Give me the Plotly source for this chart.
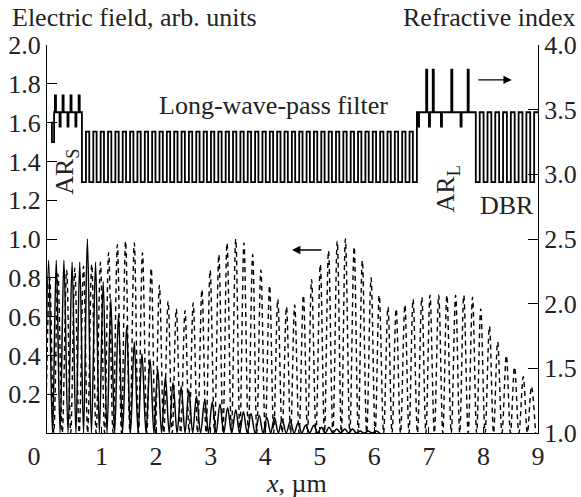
import plotly.graph_objects as go

# ---------------- data ----------------
# Electric field, dashed curve (long-wave component): peak positions (um) and heights
dashed_peak_x = [0.05, 0.20, 0.36, 0.51, 0.67, 0.82, 0.98, 1.13, 1.29, 1.44, 1.60, 1.75,
                 1.91, 2.06, 2.22, 2.37, 2.53, 2.68, 2.84, 2.99, 3.15, 3.30, 3.46, 3.61,
                 3.77, 3.92, 4.08, 4.23, 4.39, 4.54, 4.70, 4.85, 5.01, 5.16, 5.32, 5.47,
                 5.63, 5.78, 5.94, 6.09, 6.25, 6.40, 6.56, 6.71, 6.87, 7.02, 7.18, 7.33,
                 7.49, 7.64, 7.80, 7.95, 8.11, 8.26, 8.42, 8.57, 8.73, 8.88]
dashed_peak_y = [0.80, 0.82, 0.84, 0.85, 0.86, 0.87, 0.88, 0.93, 0.97, 0.99, 0.98, 0.93,
                 0.85, 0.76, 0.68, 0.64, 0.63, 0.67, 0.74, 0.84, 0.92, 0.98, 1.00, 0.98,
                 0.92, 0.84, 0.76, 0.69, 0.65, 0.66, 0.71, 0.79, 0.87, 0.94, 0.99, 1.00,
                 0.96, 0.89, 0.80, 0.71, 0.65, 0.64, 0.66, 0.69, 0.70, 0.71, 0.71, 0.71,
                 0.71, 0.71, 0.70, 0.64, 0.55, 0.47, 0.40, 0.34, 0.29, 0.24]

# Electric field, solid curve (short-wave component)
solid_peak_x = [0.03, 0.17, 0.31, 0.46, 0.60, 0.74, 0.89, 1.03, 1.17, 1.31, 1.46, 1.60,
                1.74, 1.89, 2.03, 2.17, 2.31, 2.46, 2.60, 2.74, 2.89, 3.03, 3.17, 3.31,
                3.46, 3.60, 3.74, 3.89, 4.03, 4.17, 4.31, 4.46, 4.60, 4.74, 4.89, 5.03,
                5.17, 5.31, 5.46, 5.60, 5.74, 5.89, 6.03]
solid_peak_y = [0.89, 0.89, 0.89, 0.88, 0.88, 1.00, 0.88, 0.78, 0.69, 0.61, 0.55, 0.47,
                0.41, 0.38, 0.33, 0.29, 0.26, 0.24, 0.22, 0.19, 0.17, 0.16, 0.15, 0.13,
                0.12, 0.11, 0.10, 0.09, 0.08, 0.08, 0.07, 0.06, 0.05, 0.04, 0.04, 0.03,
                0.03, 0.02, 0.02, 0.02, 0.01, 0.01, 0.01]

# Refractive index profile (layer boundaries in um, index of each layer)
lead_edges = [0.08, 0.09, 0.13]
lead_n = [3.40, 3.25]
ars_edges = [0.13, 0.145, 0.165, 0.23, 0.25, 0.285, 0.305, 0.375, 0.395, 0.43, 0.45,
             0.52, 0.54, 0.58, 0.60, 0.64]
ars_n = [3.48, 3.61, 3.48, 3.37, 3.48, 3.61, 3.48, 3.37, 3.48, 3.61, 3.48, 3.37, 3.48,
         3.61, 3.48]
lwp_start, lwp_periods = 0.64, 45
lwp_n_low, lwp_n_high = 2.94, 3.33
lwp_d_low, lwp_d_high = 0.074, 0.0608
arl_edges = [6.78, 6.80, 6.82, 6.95, 6.97, 7.00, 7.02, 7.07, 7.09, 7.22, 7.24, 7.41,
             7.43, 7.58, 7.60, 7.71, 7.73, 7.86]
arl_n = [3.48, 3.37, 3.48, 3.81, 3.48, 3.37, 3.48, 3.81, 3.48, 3.37, 3.48, 3.81, 3.48,
         3.37, 3.48, 3.81, 3.48]
dbr_start, dbr_periods = 7.86, 8
dbr_n_low, dbr_n_high = 2.94, 3.48
dbr_d_low, dbr_d_high = 0.072, 0.0705

x_ticks = [0, 1, 2, 3, 4, 5, 6, 7, 8, 9]
x_tick_text = ["0\u00a0\u00a0\u00a0\u00a0", "1", "2", "3", "4", "5", "6", "7", "8", "9"]
left_ticks = [0.2, 0.4, 0.6, 0.8, 1.0, 1.2, 1.4, 1.6, 1.8, 2.0]
right_ticks = [1.0, 1.5, 2.0, 2.5, 3.0, 3.5, 4.0]

# ---------------- build geometry ----------------
def humps(px, py):
    xs, ys = [], []
    n = len(px)
    for i in range(n):
        left = (px[i - 1] + px[i]) / 2 if i > 0 else px[0] - (px[1] - px[0]) / 2
        if i == 0:
            xs.append(left); ys.append(0.0)
        xs.append(px[i]); ys.append(py[i])
        right = (px[i] + px[i + 1]) / 2 if i < n - 1 else px[i] + (px[i] - px[i - 1]) / 2
        xs.append(right); ys.append(0.0)
    return xs, ys

def steps(edges, ns, xs, ys):
    for i, n in enumerate(ns):
        xs += [edges[i], edges[i + 1]]
        ys += [n, n]

px_, py_ = [], []
steps(lead_edges, lead_n, px_, py_)
steps(ars_edges, ars_n, px_, py_)
e = [lwp_start]; nn = []
for _ in range(lwp_periods):
    e.append(e[-1] + lwp_d_low); nn.append(lwp_n_low)
    e.append(e[-1] + lwp_d_high); nn.append(lwp_n_high)
e.append(e[-1] + lwp_d_low); nn.append(lwp_n_low)
steps(e, nn, px_, py_)
steps(arl_edges, arl_n, px_, py_)
e = [dbr_start]; nn = []
for _ in range(dbr_periods):
    e.append(e[-1] + dbr_d_low); nn.append(dbr_n_low)
    e.append(e[-1] + dbr_d_high); nn.append(dbr_n_high)
steps(e, nn, px_, py_)

dx, dy = humps(dashed_peak_x, dashed_peak_y)
sx, sy = humps(solid_peak_x, solid_peak_y)

FONT = "Times New Roman, Liberation Serif, Tinos, serif"
TXT = "#222222"
FS = 26

fig = go.Figure()
fig.add_trace(go.Scatter(x=dx, y=dy, mode="lines", line=dict(color="black", width=1.4, dash="5px,4px", shape="spline", smoothing=1.0), hoverinfo="skip"))
fig.add_trace(go.Scatter(x=sx, y=sy, mode="lines", line=dict(color="black", width=1.5, shape="spline", smoothing=1.0), hoverinfo="skip"))
fig.add_trace(go.Scatter(x=px_, y=py_, mode="lines", yaxis="y2", line=dict(color="black", width=1.8), hoverinfo="skip"))

ann = [
    dict(text="Electric field, arb. units", xref="paper", yref="paper", x=-0.0754, y=1.072, xanchor="left", yanchor="middle", showarrow=False),
    dict(text="Refractive index", xref="paper", yref="paper", x=1.0815, y=1.072, xanchor="right", yanchor="middle", showarrow=False),
    dict(text="Long-wave-pass filter", xref="x", yref="y2", x=4.15, y=3.53, xanchor="center", yanchor="middle", showarrow=False),
    dict(text="AR<sub>S</sub>", xref="x", yref="y2", x=0.35, y=3.02, textangle=-90, showarrow=False),
    dict(text="AR<sub>L</sub>", xref="x", yref="y2", x=7.33, y=2.89, textangle=-90, showarrow=False),
    dict(text="DBR", xref="x", yref="y2", x=8.43, y=2.76, showarrow=False),
    dict(text="<i>x</i>, µm", xref="paper", yref="paper", x=0.509, y=-0.13, xanchor="center", yanchor="middle", showarrow=False),
    dict(text="", xref="x", yref="y", x=4.49, y=0.943, ax=31, ay=0, axref="pixel", ayref="pixel", showarrow=True, arrowhead=2, arrowsize=1.2, arrowwidth=1.4, arrowcolor="black"),
    dict(text="", xref="x", yref="y2", x=8.52, y=3.73, ax=-35, ay=0, axref="pixel", ayref="pixel", showarrow=True, arrowhead=2, arrowsize=1.2, arrowwidth=1.4, arrowcolor="black"),
]
for a in ann:
    a.setdefault("font", dict(family=FONT, size=FS, color=TXT))

tf = dict(family=FONT, size=FS, color=TXT)
fig.update_layout(
    width=581, height=497, margin=dict(l=47, r=43, t=45, b=64, autoexpand=False),
    paper_bgcolor="white", plot_bgcolor="white", showlegend=False,
    font=dict(family=FONT, size=FS, color=TXT),
    xaxis=dict(range=[0, 9], tickvals=x_ticks, ticktext=x_tick_text, automargin=False,
               ticks="inside", ticklen=6, tickcolor="black", showline=True, linecolor="black",
               linewidth=1.2, showgrid=False, zeroline=False, mirror=False, tickfont=tf),
    yaxis=dict(range=[0, 2], tickvals=left_ticks, ticktext=[f"{v:.1f}" for v in left_ticks],
               automargin=False,
               ticks="inside", ticklen=10, tickcolor="black", showline=True, linecolor="black",
               linewidth=1.2, showgrid=False, zeroline=False, tickfont=tf),
    yaxis2=dict(range=[1, 4], overlaying="y", side="right", tickvals=right_ticks,
                ticktext=[f"{v:.1f}" for v in right_ticks], ticks="inside", ticklen=10,
                automargin=False,
                tickcolor="black", showline=True, linecolor="black", linewidth=1.2,
                showgrid=False, zeroline=False, tickfont=tf),
    annotations=ann,
)
fig.write_html("out.html")
